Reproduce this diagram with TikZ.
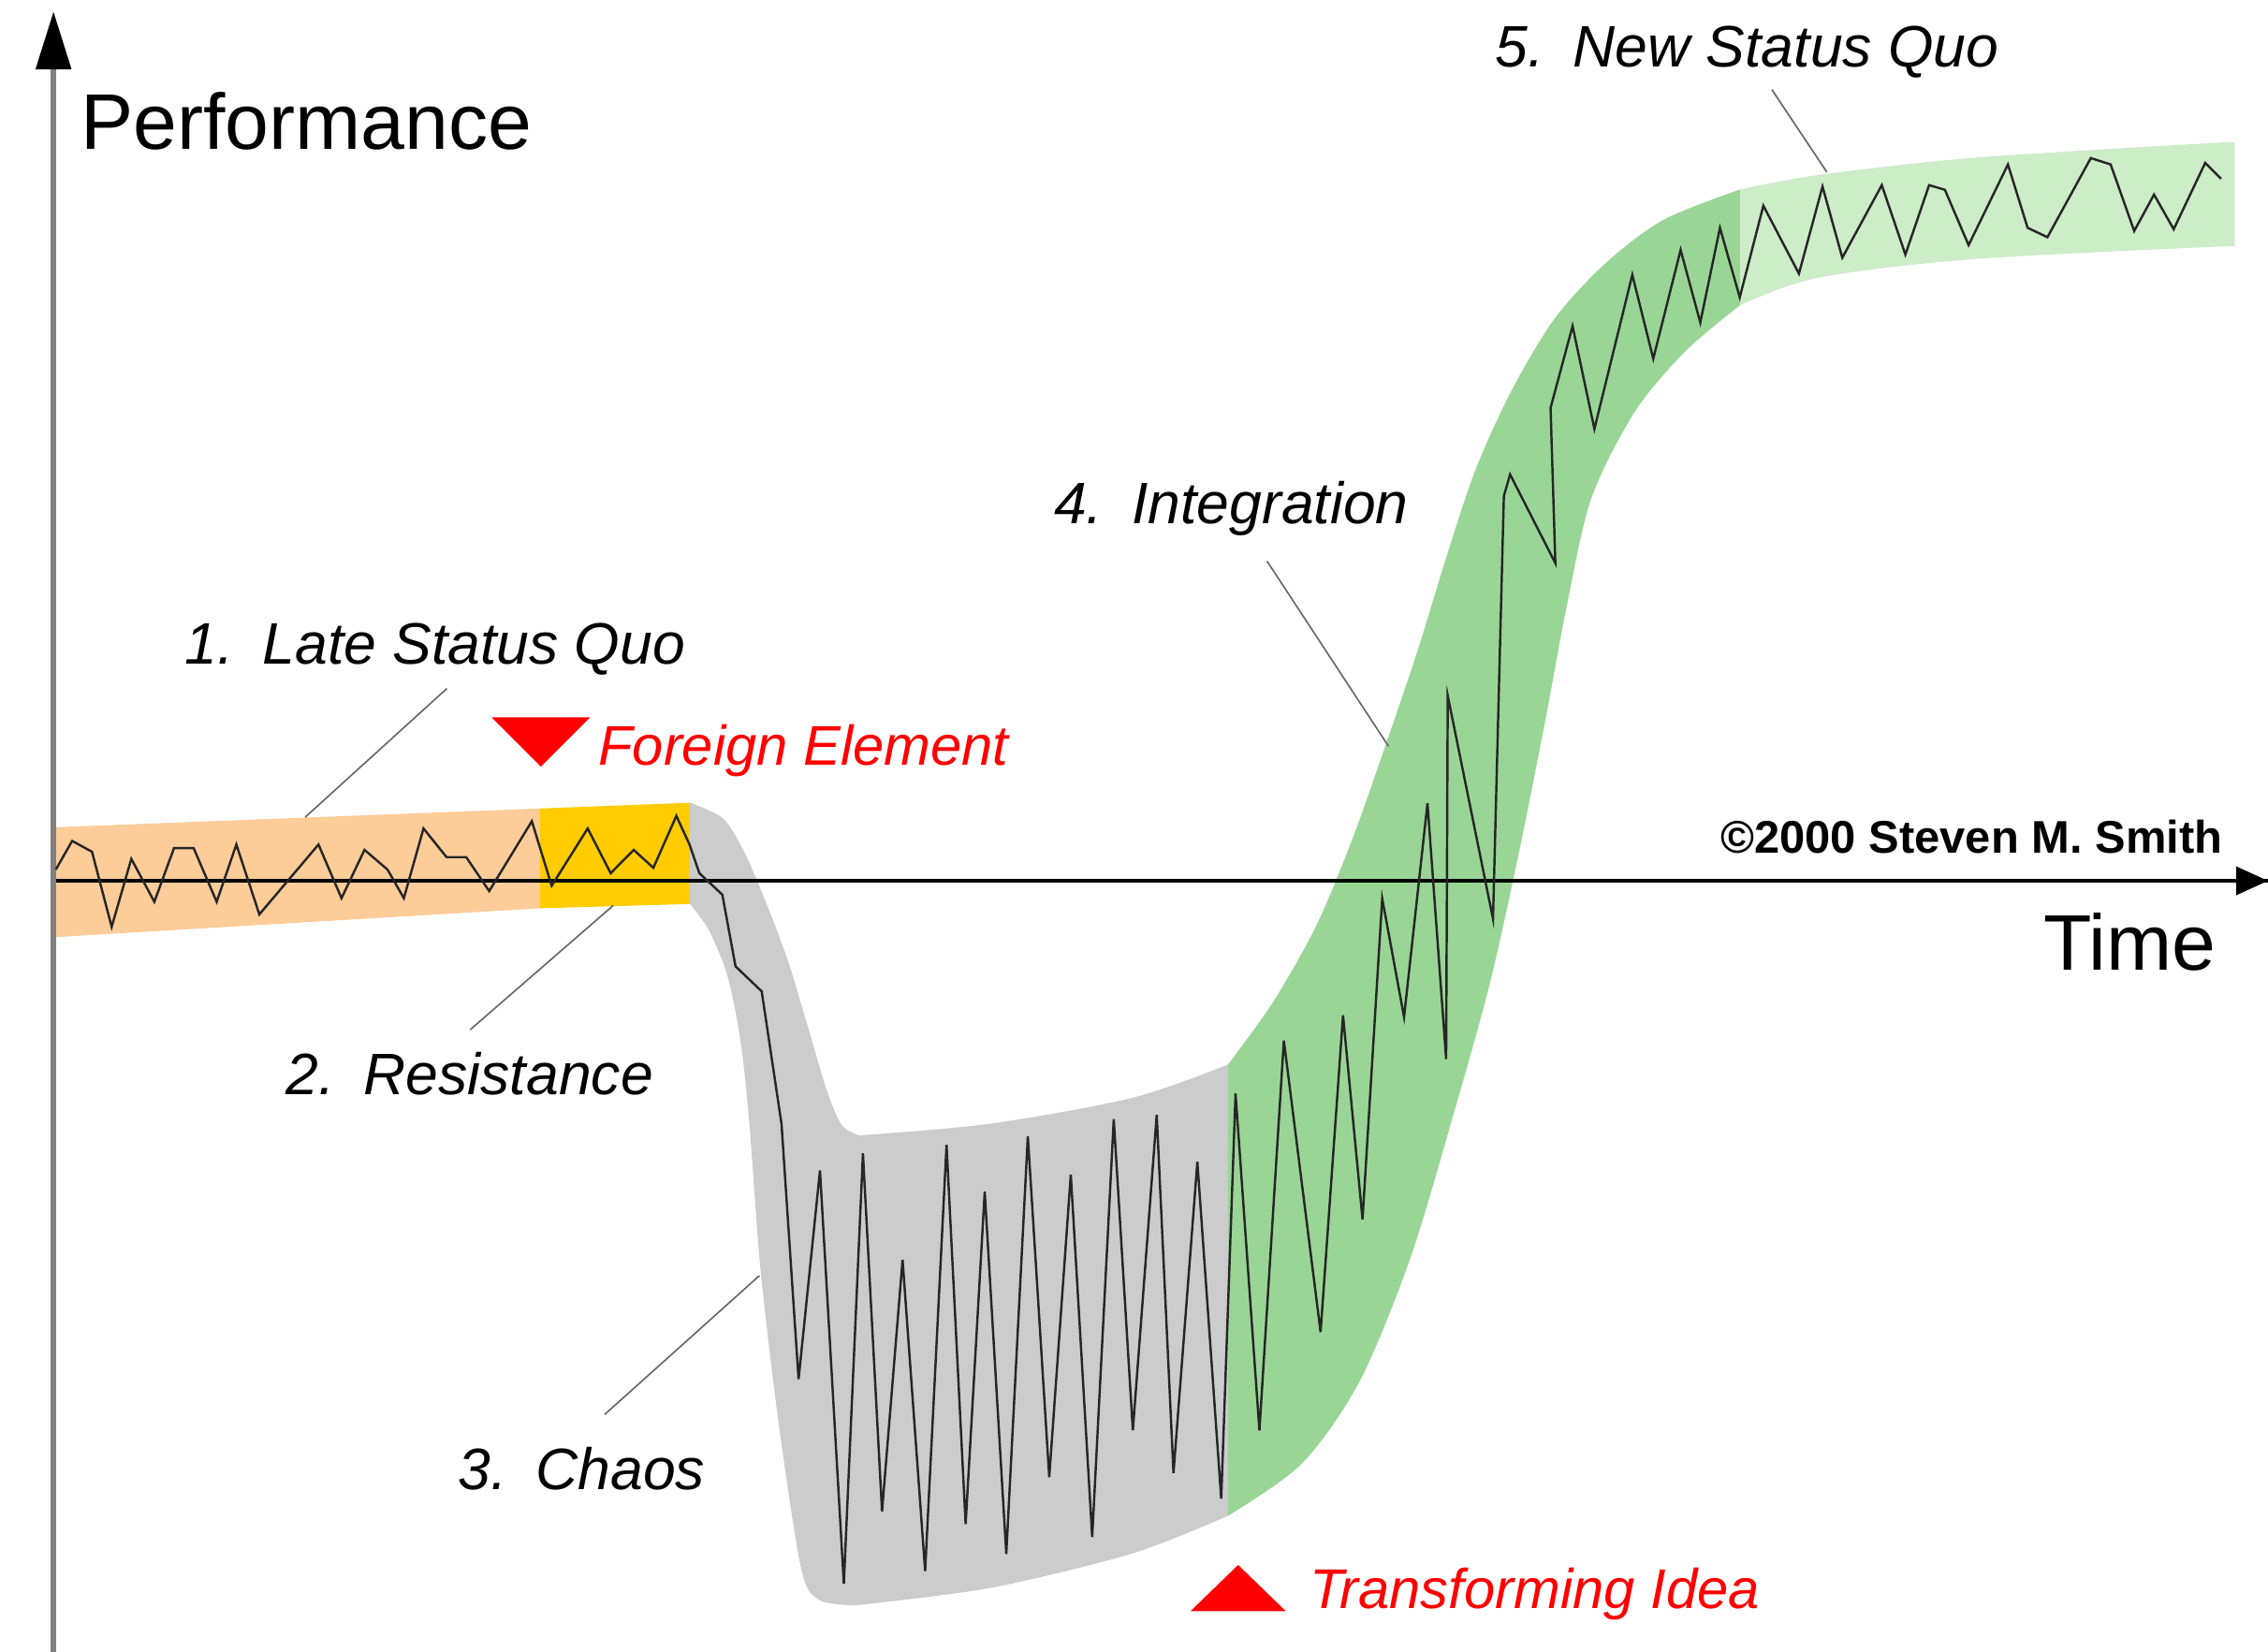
\documentclass[tikz,border=0pt]{standalone}
\usepackage{fontspec}
\setmainfont{Liberation Sans}
\usepackage{tikz}
\usetikzlibrary{positioning, arrows.meta}
\definecolor{peach}{RGB}{252,204,153}
\definecolor{amber}{RGB}{255,204,0}
\definecolor{chaosgray}{RGB}{204,204,204}
\definecolor{integgreen}{RGB}{153,214,150}
\definecolor{newgreen}{RGB}{205,236,200}
\tikzset{
	stage/.append style={
		font={\fontsize{11.5}{14}\selectfont\itshape},
		inner sep=0pt,
		anchor=base west
	},
	alert/.append style={
		stage,
		font={\fontsize{11}{13}\selectfont\itshape},
		text=red
	},
	axislabel/.append style={
		font={\fontsize{15.5}{18}\selectfont},
		inner sep=0pt,
		anchor=base west
	},
	leader/.append style={
		draw=black!60,
		line width=0.3pt
	},
	trace/.append style={
		draw=black!85,
		line width=0.45pt,
		line join=miter
	},
	axisline/.append style={
		line width=0.6pt
	}
}

\begin{document}
\begin{tikzpicture}[x=0.1mm, y=-0.1mm]
\useasboundingbox (0,0) rectangle (1568,1142);

% bands
\fill[peach] (37,572) -- (373,559) -- (373,628) -- (37,648) -- cycle;
\fill[amber] (373,559) -- (477,555) -- (477,625) -- (373,628) -- cycle;
\fill[chaosgray] plot[smooth, tension=0.5] coordinates {(477,555) (500,566) (515,590) (530,625) (545,665) (560,715) (572,755) (582,778) (594,785)}
	-- plot[smooth] coordinates {(594,785) (684,777) (783,759) (849,736)}
	-- (849,1048)
	-- plot[smooth] coordinates {(849,1048) (783,1074) (684,1098) (590,1110)}
	-- plot[smooth, tension=0.5] coordinates {(590,1110) (566,1106) (554,1085) (539,989) (526,880) (518,776) (512,720) (503,675) (490,643) (477,625)}
	-- cycle;
\fill[integgreen] (849,736)
	-- plot[smooth] coordinates {(849,736) (880,693) (910,640) (935,580) (958,515) (980,450) (1000,385) (1020,325) (1045,270) (1075,220) (1110,182) (1150,152) (1203,131)}
	-- (1203,211)
	-- plot[smooth] coordinates {(1203,211) (1165,243) (1130,285) (1100,345) (1083,420) (1068,500) (1050,590) (1030,680) (1005,770) (975,870) (940,955) (900,1012) (849,1048)}
	-- cycle;
\fill[newgreen] (1203,131)
	-- plot[smooth] coordinates {(1203,131) (1257,121) (1366,109) (1545,98)}
	-- (1545,170)
	-- plot[smooth] coordinates {(1545,170) (1366,179) (1257,192) (1203,211)}
	-- cycle;

% axes
\coordinate (origin) at (37,1142);
\coordinate (ytop) at (37,8);
\coordinate (xstart) at (37,609);
\coordinate (xend) at (1568,609);
\draw[axisline] (xstart) -- (xend);
\draw[line width=1pt, black!50, -{Triangle[length=4mm, width=2.4mm, color=black]}] (origin) -- (ytop);
\fill[black] (1568,609) -- (1546,599) -- (1546,619) -- cycle;

% performance trace
\draw[trace] plot coordinates {
	(38.6,601.2) (49.9,581.4) (63.6,588.9) (77.2,640.8) (90.8,593.8) (106.7,623.5) (120.3,586.4) (133.9,586.4)
	(149.8,623.5) (163.4,583.9) (179.3,632.2) (220.2,583.9) (236.1,621.0) (252.0,587.6) (267.9,601.2) (279.2,621.0)
	(292.8,572.8) (308.7,592.6) (322.3,592.6) (338.2,616.1) (367.7,567.8) (381.4,612.4) (406.3,572.8) (422.2,603.7)
	(438.1,587.6) (451.7,600.0) (467.6,564.1) (476.7,583.9) (483.5,603.7) (499.4,618.6) (508.5,668.1) (526.6,685.4)
	(540.3,777) (552.1,953.6) (566.9,809.2) (583.4,1095) (596.6,797.4) (609.8,1044.9) (624,871) (639.6,1086.2)
	(654.4,791.5) (667.6,1053.8) (680.8,823.9) (695.7,1074.4) (710.6,785.6) (725.4,1021.3) (740.3,812.1) (755.1,1062.6)
	(770,773.8) (783.2,988.9) (799.7,770.9) (811.3,1018.4) (827.8,803.3) (844.3,1036.1) (854.2,756) (870.7,989)
	(887.6,719.4) (913,921) (928.5,702) (942,843) (955.6,621.2) (970.7,703.2) (986.9,555.4) (999.8,732.3)
	(1000.9,481) (1032.2,635.3) (1039.7,343) (1044,328) (1075.3,389.4) (1072,282) (1087.2,225.4) (1102.3,296.6)
	(1128.5,190) (1143,248) (1161.9,172.8) (1175.5,223) (1189.1,157.5) (1202.8,205.6) (1219.1,142.2) (1243.7,189.2)
	(1260,129) (1273.7,178.2) (1301,128) (1317.3,176) (1333.7,128) (1344.6,131.2) (1361,169.5) (1388.2,113.7)
	(1401.8,157.5) (1415.5,164) (1445.5,109.3) (1459.2,113.7) (1475.5,159.7) (1489.2,134.5) (1502.8,158.5) (1524.6,112.6)
	(1535.5,123.6)};

% labels
\node(perf)[axislabel] at (55,103) {Performance};
\node(time)[axislabel] at (1412,671) {Time};
\node(copy)[inner sep=0pt, anchor=base west, font={\fontsize{9}{11}\selectfont\bfseries}] at (1189,590) {©2000 Steven M. Smith};
\node(late)[stage] at (127,459) {1.\enspace Late Status Quo};
\node(resist)[stage] at (197,757) {2.\enspace Resistance};
\node(chaos)[stage] at (316,1030) {3.\enspace Chaos};
\node(integ)[stage] at (728,362) {4.\enspace Integration};
\node(newsq)[stage] at (1033,46) {5.\enspace New Status Quo};
\node(foreign)[alert] at (413,529) {Foreign Element};
\node(transf)[alert] at (905,1112) {Transforming Idea};

% markers
\fill[red] (340,496) -- (408,496) -- (374,530) -- cycle;
\fill[red] (823,1114) -- (889,1114) -- (856,1082) -- cycle;

% leaders
\coordinate (late-a) at (309,476);
\coordinate (late-b) at (211,565);
\coordinate (resist-a) at (424,626);
\coordinate (resist-b) at (325,712);
\coordinate (chaos-a) at (525,882);
\coordinate (chaos-b) at (418,978);
\coordinate (integ-a) at (876,388);
\coordinate (integ-b) at (960,516);
\coordinate (newsq-a) at (1225,62);
\coordinate (newsq-b) at (1263,119);
\draw[leader] (late-a) -- (late-b);
\draw[leader] (resist-a) -- (resist-b);
\draw[leader] (chaos-a) -- (chaos-b);
\draw[leader] (integ-a) -- (integ-b);
\draw[leader] (newsq-a) -- (newsq-b);
\end{tikzpicture}
\end{document}
